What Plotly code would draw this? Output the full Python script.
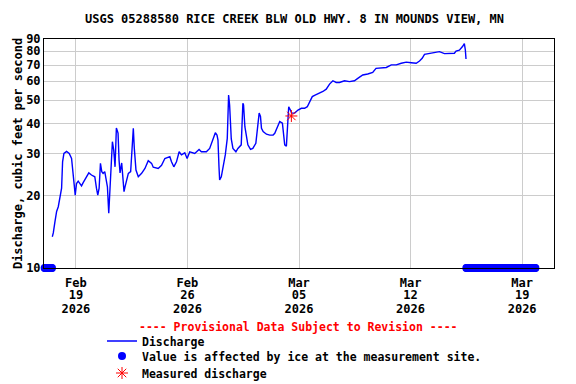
import pandas as pd
import plotly.graph_objects as go

START = pd.Timestamp("2026-02-17 00:00")

# Discharge record: hours since 2026-02-17 00:00 and discharge (ft3/s)
discharge_hours = [
    12.5, 14, 16.5, 19, 21.5, 24, 26.5, 28, 30, 34, 38, 41.5, 44, 45.5, 47, 49, 51.5, 54, 56.5, 59,
    64, 67.5, 71.5, 76.5, 79, 81, 83, 85, 87, 89, 91.5, 95.5, 97.5, 99, 101.5, 103, 105, 107,
    109, 111.5, 113, 114.5, 117, 118.5, 120.5, 122, 124.5, 127, 130.5, 133, 134.5, 136, 138.5,
    142, 147, 152, 157, 162, 164.5, 172, 177, 182, 189.5, 192, 195.5, 199.5, 203.5, 207, 212,
    215.5, 219.5, 227, 233.5, 237, 244.5, 249.5, 253.5, 258, 260.5, 262, 263.5, 264.5, 267,
    269.5, 273, 276, 278, 279.5, 280.5, 282, 284.5, 289, 292, 297, 299.5, 300.5, 302.5, 305,
    307, 311, 314.5, 319, 321, 324, 326, 327.5, 330, 335, 340, 345, 347.5, 352.5, 355, 359,
    361, 362.5, 365, 366.5, 368.5, 371, 373, 377.5, 382.5, 387.5, 392.5, 396.5, 400, 404,
    409, 415, 420, 425, 430, 435, 440, 445, 452.5, 460, 467.5, 472.5, 480, 487.5, 495, 500,
    508, 515.5, 523, 530.5, 538, 545.5, 553, 560.5, 565.5, 569.5, 573, 580.5, 588, 595.5,
    603, 610.5, 618, 620.5, 625.5, 630.5, 633, 634.5, 635.5,
]
discharge_cfs = [
    13.5, 14.0, 15.6, 17.2, 18.0, 19.6, 21.5, 27.7, 30.0, 30.6, 30.0, 28.6, 25.2, 22.2, 20.1, 22.5, 23.0, 22.5, 22.0, 22.7,
    24.0, 24.9, 24.4, 24.0, 21.5, 20.1, 21.5, 27.3, 25.2, 24.8, 25.2, 21.8, 16.9, 19.8, 25.6, 33.6, 31.0, 26.4,
    38.3, 36.5, 28.2, 24.9, 27.4, 24.0, 20.8, 21.8, 23.7, 24.8, 25.2, 33.1, 38.2, 31.5, 25.6,
    24.0, 24.8, 26.0, 28.0, 27.3, 26.3, 26.0, 26.8, 28.6, 29.1, 27.7, 26.4, 27.7, 30.5, 29.6, 30.2,
    28.6, 30.5, 30.0, 31.2, 30.5, 30.5, 31.5, 33.6, 36.6, 35.8, 34.1, 26.4, 23.3, 24.0,
    26.0, 29.6, 34.7, 52.6, 47.8, 40.0, 34.5, 31.5, 30.5, 31.5, 32.6, 48.6, 47.8, 38.8, 35.2,
    32.6, 31.2, 31.5, 33.1, 36.4, 44.2, 42.8, 38.2, 37.0, 36.1, 35.8, 35.8, 36.4, 39.4, 40.8, 40.1,
    35.2, 32.6, 32.2, 38.8, 47.0, 45.5, 44.2, 44.2, 45.5, 46.3, 46.3, 47.0, 49.3, 51.8,
    52.6, 53.5, 54.4, 55.6, 58.4, 60.3, 59.3, 59.3, 60.3, 59.8, 60.3, 61.7, 63.7, 64.3, 65.3, 67.9,
    68.3, 68.5, 70.2, 70.2, 71.3, 72.1, 71.7, 71.3, 72.9, 74.8, 77.7, 78.2, 78.8, 79.7,
    78.2, 78.2, 78.5, 80.2, 80.9, 83.9, 86.1, 81.0, 74.3,
]

# Periods when the value is affected by ice (plotted at the axis floor)
ice_starts = ["2026-02-17 01:00", "2026-03-15 12:00"]
ice_ends = ["2026-02-17 12:00", "2026-03-19 20:00"]
ice_level = 10

# Field measurement
measured_time = ["2026-03-04 12:30"]
measured_cfs = [43]

tick_dates = ["2026-02-19", "2026-02-26", "2026-03-05", "2026-03-12", "2026-03-19"]
tick_month = ["Feb", "Feb", "Mar", "Mar", "Mar"]
tick_day = ["19", "26", "05", "12", "19"]
tick_year = ["2026", "2026", "2026", "2026", "2026"]
y_ticks = [10, 20, 30, 40, 50, 60, 70, 80, 90]

FONT = "DejaVu Sans Mono"
X_RANGE = ["2026-02-17", "2026-03-21"]

# page body has an 8px margin: figure occupies the remaining 568x376
W, H = 568, 376
L, T, R, B = 36, 31, 22, 116
PW, PH = W - L - R, H - T - B


def px(x):
    return (x - L) / PW


def py(y):
    return (H - B - y) / PH


discharge_times = [START + pd.Timedelta(hours=h) for h in discharge_hours]
ice_times = []
for s, e in zip(ice_starts, ice_ends):
    ice_times += list(pd.date_range(s, e, freq="1h"))

fig = go.Figure()
fig.add_trace(go.Scatter(
    x=discharge_times, y=discharge_cfs, mode="lines", name="Discharge",
    line=dict(color="#0000ff", width=1.4), legend="legend",
))
fig.add_trace(go.Scatter(
    x=ice_times, y=[ice_level] * len(ice_times), mode="markers",
    name="Value is affected by ice at the measurement site.",
    marker=dict(color="#0000ff", size=8, symbol="circle"), cliponaxis=False,
    legend="legend2",
))
fig.add_trace(go.Scatter(
    x=measured_time, y=measured_cfs, mode="markers", name="Measured discharge",
    marker=dict(color="#ff0000", size=10, symbol="asterisk-open", line=dict(color="#ff0000", width=1)),
    cliponaxis=False, legend="legend3",
))
# empty carriers so the extra label axes (2nd and 3rd tick-label lines) get drawn
for ax in ("x2", "x3"):
    fig.add_trace(go.Scatter(x=[], y=[], xaxis=ax, yaxis="y", showlegend=False,
                             hoverinfo="skip", mode="lines"))

leg_common = dict(xanchor="left", yanchor="middle", bgcolor="rgba(0,0,0,0)",
                  font=dict(family=FONT, size=11.5, weight="bold"), itemwidth=30)
LEG_X = px(94)

fig.update_layout(
    width=W, height=H,
    margin=dict(l=L, r=R, t=T, b=B, autoexpand=False),
    paper_bgcolor="white", plot_bgcolor="white",
    font=dict(family=FONT, size=12, color="black", weight="bold"),
    title=dict(text="USGS 05288580 RICE CREEK BLW OLD HWY. 8 IN MOUNDS VIEW, MN",
               x=286.5 / W, xanchor="center", y=1 - 11 / H, yanchor="middle",
               font=dict(family=FONT, size=12, weight="bold")),
    showlegend=True,
    legend=dict(x=LEG_X, y=py(333), **leg_common),
    legend2=dict(x=LEG_X, y=py(348), **leg_common),
    legend3=dict(x=LEG_X, y=py(365), **leg_common),
    annotations=[dict(text="---- Provisional Data Subject to Revision ----",
                      xref="paper", yref="paper", x=px(290), y=py(319),
                      xanchor="center", yanchor="middle", showarrow=False,
                      font=dict(family=FONT, size=11.5, color="#ff0000", weight="bold"))],
)
fig.update_layout(xaxis=dict(
    type="date", range=X_RANGE,
    tickvals=tick_dates, ticktext=tick_month, ticks="", ticklabelstandoff=4,
    showgrid=True, gridcolor="#cccccc", gridwidth=1,
    showline=True, linecolor="black", linewidth=1, mirror=True,
    zeroline=False, tickfont=dict(size=12),
))
extra = dict(type="date", range=X_RANGE, overlaying="x", anchor="y", side="bottom",
             tickvals=tick_dates, ticks="", showgrid=False, showline=False,
             zeroline=False, tickfont=dict(size=12), visible=True, showticklabels=True)
fig.update_layout(
    xaxis2=dict(ticktext=tick_day, ticklabelstandoff=18, **extra),
    xaxis3=dict(ticktext=tick_year, ticklabelstandoff=32, **extra),
)
fig.update_layout(yaxis=dict(
    type="log", range=[1, 1.95424], tickvals=y_ticks, ticktext=[str(v) for v in y_ticks],
    ticks="", showgrid=True, gridcolor="#cccccc", gridwidth=1,
    showline=True, linecolor="black", linewidth=1, mirror=True,
    title=dict(text="Discharge, cubic feet per second", font=dict(size=12), standoff=0),
    tickfont=dict(size=12),
))

fig.write_html("out.html")
